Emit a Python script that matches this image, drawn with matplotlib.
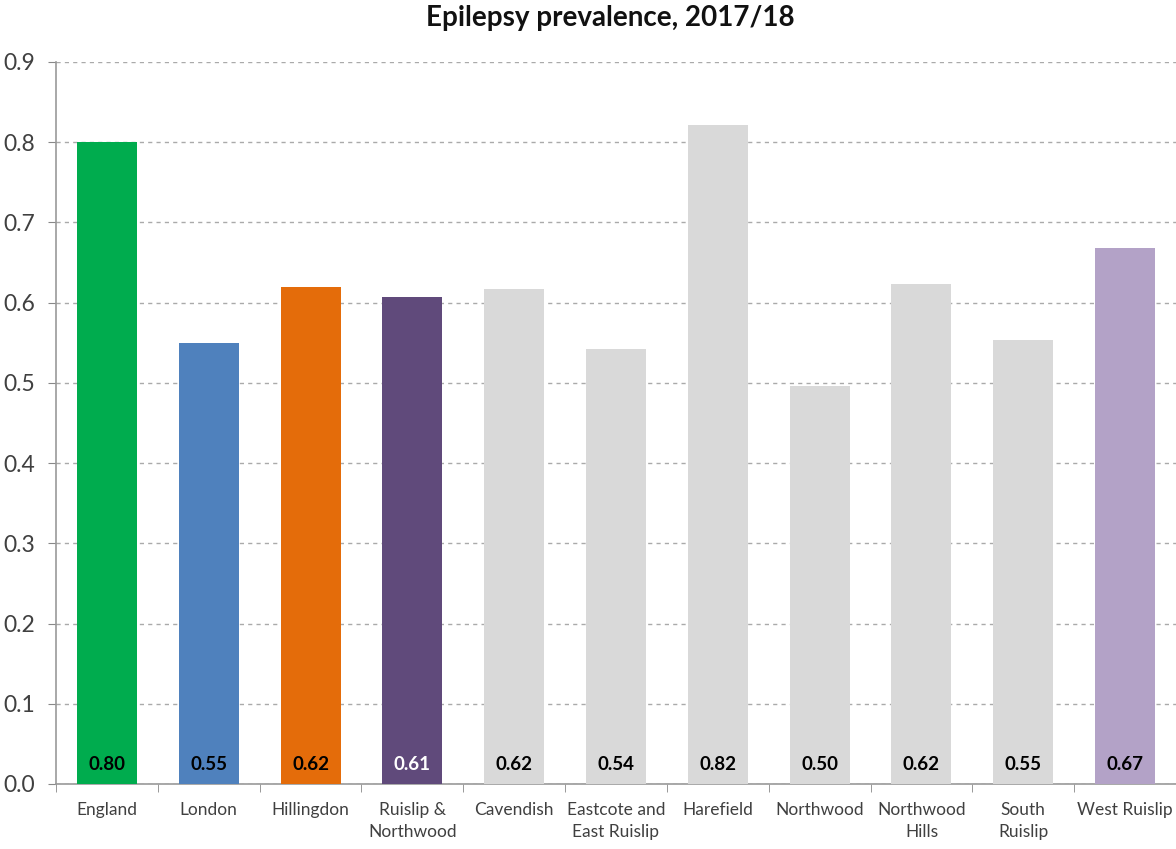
import matplotlib
matplotlib.use("Agg")
import matplotlib.pyplot as plt
import numpy as np

categories = ["England", "London", "Hillingdon", "Ruislip &\nNorthwood", "Cavendish",
              "Eastcote and\nEast Ruislip", "Harefield", "Northwood", "Northwood\nHills",
              "South\nRuislip", "West Ruislip"]
values = [0.80, 0.55, 0.619, 0.607, 0.617, 0.542, 0.821, 0.496, 0.623, 0.553, 0.668]
labels = ["0.80", "0.55", "0.62", "0.61", "0.62", "0.54", "0.82", "0.50", "0.62", "0.55", "0.67"]
colors = ["#00AC4E", "#4F81BD", "#E46C0A", "#604A7B", "#D9D9D9", "#D9D9D9", "#D9D9D9",
          "#D9D9D9", "#D9D9D9", "#D9D9D9", "#B3A2C7"]
label_colors = ["black", "black", "black", "white"] + ["black"] * 7

plt.rcParams['font.family'] = ['Lato', 'DejaVu Sans']

fig = plt.figure(figsize=(11.76, 8.49), dpi=100)
ax = fig.add_axes([56/1176, 1 - 784/849, 1 - 56/1176, (784 - 62)/849])

x = np.arange(len(categories))
ax.bar(x, values, width=0.59, color=colors, zorder=3)
for xi, lab, c in zip(x, labels, label_colors):
    ax.text(xi, 0.024, lab, ha='center', va='center', fontsize=13.5, fontweight='bold',
            color=c, zorder=4)

ax.set_xlim(-0.5, len(categories) - 0.5)
ax.set_ylim(0, 0.9)
ax.set_yticks(np.arange(0, 0.91, 0.1))
ax.set_yticklabels([f"{v:.1f}" for v in np.arange(0, 0.91, 0.1)], fontsize=16.5, color="#404040")
ax.yaxis.grid(True, linestyle=(0, (3, 3)), color="#AAAAAA", linewidth=1, zorder=0)

ax.set_xticks(x)
ax.set_xticklabels(categories, fontsize=12.5, color="#404040", linespacing=1.45)
ax.tick_params(axis='x', length=0, pad=13)
ax.set_xticks(np.arange(-0.5, len(categories), 1), minor=True)
ax.tick_params(axis='x', which='minor', length=6, color="#888888", direction='out')
ax.tick_params(axis='y', length=6, color="#888888", direction='out', pad=9)

for s in ['top', 'right']:
    ax.spines[s].set_visible(False)
for s in ['left', 'bottom']:
    ax.spines[s].set_color("#999999")
    ax.spines[s].set_linewidth(1.2)

fig.text(610/1176, 1 - 18/849, "Epilepsy prevalence, 2017/18", ha='center', va='center',
         fontsize=20, fontweight='bold', color="#111111")

fig.savefig("out.png", dpi=100)
